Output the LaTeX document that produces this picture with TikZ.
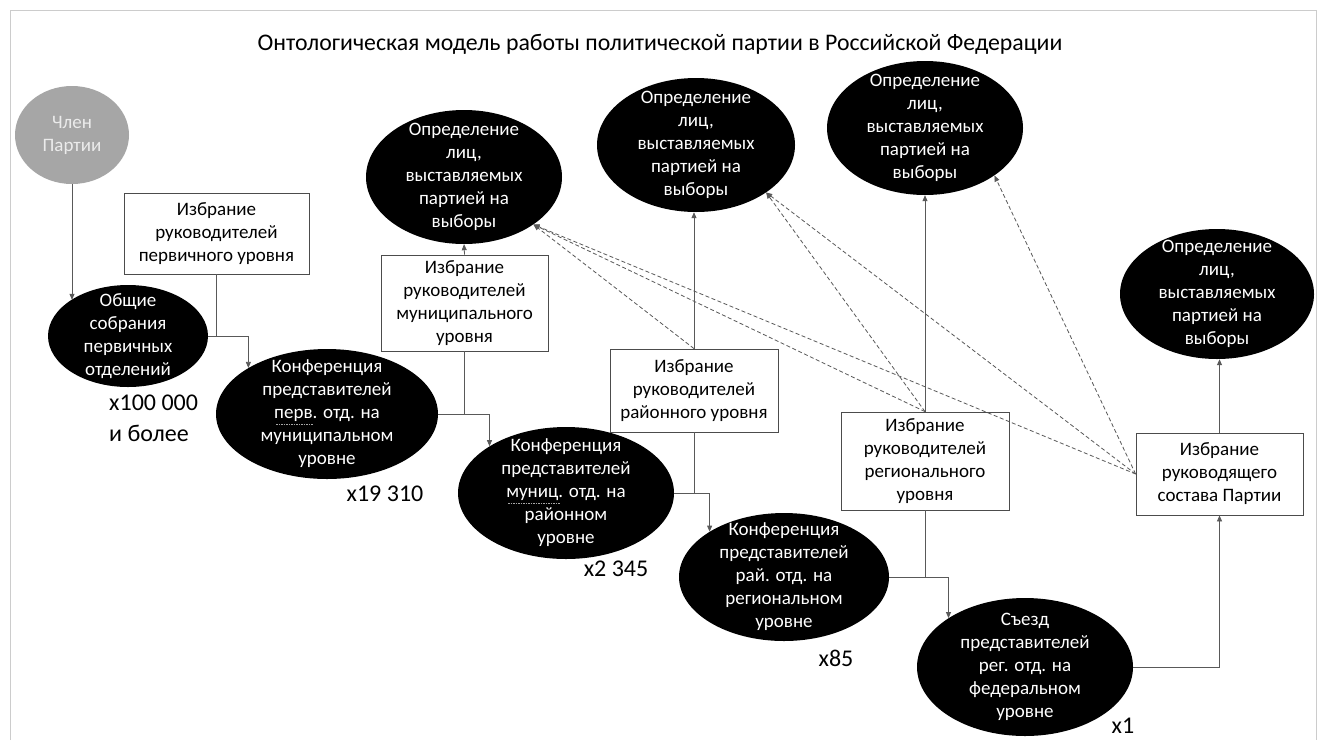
\documentclass[tikz,border=0pt]{standalone}
\usepackage{fontspec}
\setmainfont{Carlito}
\usetikzlibrary{shapes.geometric,arrows.meta}
\begin{document}
\begin{tikzpicture}[x=1pt,y=-1pt,
  font=\fontsize{19}{23}\selectfont,
  blob/.style={ellipse, fill=black, draw=none, inner sep=0pt},
  blobtext/.style={text=white, align=center, inner sep=0pt},
  box/.style={rectangle, draw=black!70, line width=0.8pt, fill=white, align=center, inner sep=0pt},
  conn/.style={draw=black!65, line width=0.8pt},
  arr/.style={conn, -{Triangle[length=6pt,width=5pt]}},
  darr/.style={draw=black!65, line width=0.8pt, dash pattern=on 4pt off 2.5pt, -{Triangle[length=6pt,width=5pt]}},
  count/.style={font=\fontsize{24}{28}\selectfont, inner sep=0pt, text=black},
  spell/.style={draw=black!35, line width=0.8pt, dash pattern=on 1.5pt off 1pt}
]
\useasboundingbox (0,0) rectangle (1319,740);
\fill[white] (0,0) rectangle (1319,740);
\draw[black!20, line width=0.8pt] (10,740) -- (10,10) -- (1316,10) -- (1316,740);

% title
\node[font=\fontsize{23.8}{28}\selectfont, inner sep=0pt] (title) at (660,44) {Онтологическая модель работы политической партии в Российской Федерации};

% member
\node[ellipse, fill=black!35, inner sep=0pt, minimum width=114, minimum height=98] (chlen) at (72,135) {};
\node[text=black!8, align=center, inner sep=0pt] at (chlen) {Член\\Партии};

% ellipses
\node[blob, minimum width=160, minimum height=102] (obsh) at (128,336) {};
\node[blobtext] at (obsh) {Общие\\собрания\\первичных\\отделений};

\node[blob, minimum width=222, minimum height=130] (k1) at (327,414) {};
\node[blobtext] at (k1) {Конференция\\представителей\\перв. отд. на\\муниципальном\\уровне};

\node[blob, minimum width=216, minimum height=132] (k2) at (566,493) {};
\node[blobtext] at (k2) {Конференция\\представителей\\муниц. отд. на\\районном\\уровне};

\node[blob, minimum width=210, minimum height=128] (k3) at (784,577) {};
\node[blobtext] at (k3) {Конференция\\представителей\\рай. отд. на\\региональном\\уровне};

\node[blob, minimum width=216, minimum height=138] (sz) at (1025,667) {};
\node[blobtext] at (sz) {Съезд\\представителей\\рег. отд. на\\федеральном\\уровне};

\node[blob, minimum width=196, minimum height=134] (o1) at (464,177) {};
\node[blobtext] at (o1) {Определение\\лиц,\\выставляемых\\партией на\\выборы};

\node[blob, minimum width=198, minimum height=134] (o2) at (696,145) {};
\node[blobtext] at (o2) {Определение\\лиц,\\выставляемых\\партией на\\выборы};

\node[blob, minimum width=196, minimum height=134] (o3) at (925,128) {};
\node[blobtext] at (o3) {Определение\\лиц,\\выставляемых\\партией на\\выборы};

\node[blob, minimum width=194, minimum height=130] (o4) at (1217,294) {};
\node[blobtext] at (o4) {Определение\\лиц,\\выставляемых\\партией на\\выборы};

% spell-check marks
\draw[spell] (276,424) -- (313,424);
\draw[spell] (508,503) -- (560,503);

% boxes
\node[box, minimum width=185, minimum height=81] (b1) at (216.5,233.5) {Избрание\\руководителей\\первичного уровня};
\node[box, minimum width=167, minimum height=96] (b2) at (464.5,303) {Избрание\\руководителей\\муниципального\\уровня};
\node[box, minimum width=168, minimum height=83] (b3) at (694,390.5) {Избрание\\руководителей\\районного уровня};
\node[box, minimum width=168, minimum height=98] (b4) at (925,461) {Избрание\\руководителей\\регионального\\уровня};
\node[box, minimum width=167, minimum height=82] (b5) at (1219.5,474) {Избрание\\руководящего\\состава Партии};

% counts
\node[count, anchor=west] (c1) at (109,403) {x100 000};
\node[count, anchor=west] (c1b) at (109,433) {и более};
\node[count] (c2) at (385,494) {x19 310};
\node[count] (c3) at (616,569) {x2 345};
\node[count] (c4) at (836,658) {x85};
\node[count] (c5) at (1123,726) {x1};

% solid connectors
\draw[arr] (chlen.south) -- (chlen.south |- obsh.north west);
\draw[arr] (obsh.east) -| (k1.north west);
\draw[conn] (b1.south) -- (b1.south |- obsh.east);
\draw[arr] (k1.east) -| (k2.north west);
\draw[conn] (b2.south) -- (b2.south |- k1.east);
\draw[arr] (k2.east) -| (k3.north west);
\draw[conn] (b3.south) -- (b3.south |- k2.east);
\draw[arr] (k3.east) -| (sz.north west);
\draw[conn] (b4.south) -- (b4.south |- k3.east);
\draw[arr] (sz.east) -| (b5.south);

\draw[arr] (b2.north) -- (o1.south);
\draw[arr] (b3.north) -- (b3.north |- o2.south);
\draw[arr] (b4.north) -- (o3.south);
\draw[arr] (b5.north) -- (b5.north |- o4.south);

% dashed connectors
\draw[darr] (b3.north) -- (o1.south east);
\draw[darr] (b4.north) -- (o1.south east);
\draw[darr] (b4.north) -- (o2.south east);
\draw[darr] (b5.west) -- (o1.south east);
\draw[darr] (b5.west) -- (o2.south east);
\draw[darr] (b5.west) -- (o3.south east);
\end{tikzpicture}
\end{document}
